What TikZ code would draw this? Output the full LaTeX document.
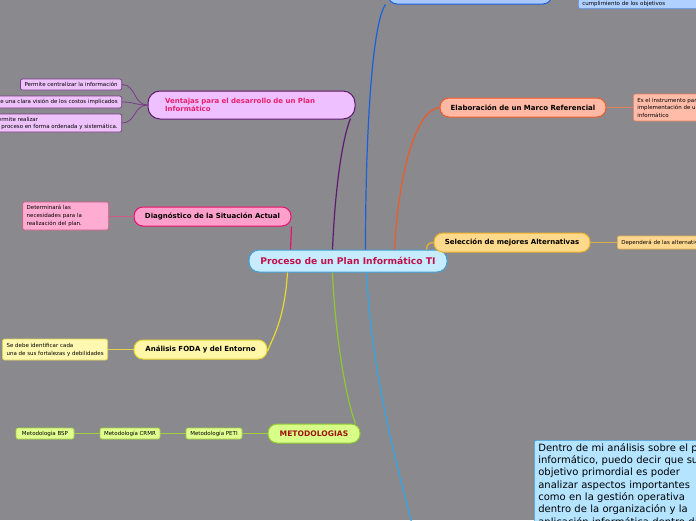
\documentclass[tikz,border=0pt]{standalone}
\usepackage{fontspec}
\setmainfont{DejaVu Sans}
\definecolor{bg}{RGB}{138,138,142}
\definecolor{vfill}{RGB}{238,192,255}
\definecolor{vdraw}{RGB}{94,26,112}
\definecolor{vtext}{RGB}{232,32,110}
\definecolor{vlfill}{RGB}{238,194,250}
\definecolor{vldraw}{RGB}{122,58,138}
\definecolor{dfill}{RGB}{255,160,204}
\definecolor{ddraw}{RGB}{232,16,110}
\definecolor{dlfill}{RGB}{255,172,210}
\definecolor{dldraw}{RGB}{208,90,138}
\definecolor{cfill}{RGB}{200,236,255}
\definecolor{cdraw}{RGB}{64,160,216}
\definecolor{ctext}{RGB}{192,16,74}
\definecolor{efill}{RGB}{255,184,164}
\definecolor{edraw}{RGB}{238,90,40}
\definecolor{elfill}{RGB}{255,188,168}
\definecolor{eldraw}{RGB}{224,128,96}
\definecolor{sfill}{RGB}{255,217,140}
\definecolor{sdraw}{RGB}{240,180,40}
\definecolor{slfill}{RGB}{255,216,144}
\definecolor{sldraw}{RGB}{224,176,80}
\definecolor{ffill}{RGB}{255,246,168}
\definecolor{fdraw}{RGB}{232,216,48}
\definecolor{flfill}{RGB}{255,248,176}
\definecolor{fldraw}{RGB}{224,208,80}
\definecolor{mfill}{RGB}{216,255,136}
\definecolor{mdraw}{RGB}{144,200,48}
\definecolor{mtext}{RGB}{160,16,16}
\definecolor{mlfill}{RGB}{224,255,144}
\definecolor{mldraw}{RGB}{160,208,64}
\definecolor{tfill}{RGB}{168,200,250}
\definecolor{tdraw}{RGB}{26,96,216}
\definecolor{tlfill}{RGB}{176,208,255}
\definecolor{tldraw}{RGB}{90,144,224}
\definecolor{nfill}{RGB}{180,228,255}
\definecolor{ndraw}{RGB}{58,160,224}
\definecolor{bline}{RGB}{48,168,232}
\tikzset{
  mainbox/.style={rounded corners=9pt, draw, line width=1pt, inner sep=0pt,
    minimum height=19pt, font=\bfseries\fontsize{7}{8}\selectfont, text=black},
  leafbox/.style={rounded corners=2pt, draw, line width=0.7pt, align=left,
    inner xsep=4pt, inner ysep=2pt, font=\fontsize{5.5}{7.5}\selectfont, text=black},
  conn/.style={line width=1.2pt},
  lconn/.style={line width=0.8pt}
}
\begin{document}
\begin{tikzpicture}[x=1pt,y=-1pt]
\useasboundingbox (0,0) rectangle (696,520);
\fill[bg] (0,0) rectangle (696,520);

% main nodes
\node[mainbox, fill=tfill, draw=tdraw, minimum width=164pt, minimum height=28pt] (t) at (470,-10) {};
\node[leafbox, fill=tlfill, draw=tldraw, anchor=south west, text height=24pt, inner ysep=2pt, text width=140pt] (tn) at (578,9) {cumplimiento de los objetivos};

\node[mainbox, fill=cfill, draw=cdraw, text=ctext, rounded corners=10pt, minimum width=198pt, minimum height=22pt, font=\bfseries\fontsize{9.2}{10}\selectfont] (c) at (348,261) {Proceso de un Plan Informático TI};

\node[mainbox, fill=vfill, draw=vdraw, text=vtext, rounded corners=12pt, minimum height=28pt, inner xsep=17pt, text width=173pt, align=left, font=\bfseries\fontsize{7}{8}\selectfont] (v) at (251.5,105) {Ventajas para el desarrollo de un Plan\\Informático};

\node[mainbox, fill=dfill, draw=ddraw, minimum width=157pt] (d) at (212.5,216.5) {Diagnóstico de la Situación Actual};
\node[mainbox, fill=efill, draw=edraw, minimum width=166pt] (e) at (523,107.5) {Elaboración de un Marco Referencial};
\node[mainbox, fill=sfill, draw=sdraw, minimum width=156pt] (s) at (512,242.5) {Selección de mejores Alternativas};
\node[mainbox, fill=ffill, draw=fdraw, minimum width=133pt] (f) at (200.5,349.5) {Análisis FODA y del Entorno};
\node[mainbox, fill=mfill, draw=mdraw, text=mtext, minimum width=92pt, font=\bfseries\fontsize{7.6}{8}\selectfont] (m) at (314,433.5) {METODOLOGIAS};

% leaves
\node[leafbox, fill=vlfill, draw=vldraw, anchor=east, minimum height=11pt] (l1) at (122,84.5) {Permite centralizar la información};
\node[leafbox, fill=vlfill, draw=vldraw, anchor=east, minimum height=12pt] (l2) at (122,102) {Ofrece una clara visión de los costos implicados};
\node[leafbox, fill=vlfill, draw=vldraw, anchor=east, minimum height=18pt, font=\fontsize{5.5}{7}\selectfont] (l3) at (122,123) {Permite realizar\\el proceso en forma ordenada y sistemática.};

\node[leafbox, fill=dlfill, draw=dldraw, anchor=east, minimum height=28pt, text width=78pt, font=\fontsize{5.5}{8}\selectfont] (dl) at (109,216) {Determinará las\\necesidades para la\\realización del plan.};
\node[leafbox, fill=elfill, draw=eldraw, anchor=west, minimum height=27pt, font=\fontsize{5.5}{7.5}\selectfont] (el) at (633,107.5) {Es el instrumento para la\\implementación de un plan\\informático};
\node[leafbox, fill=slfill, draw=sldraw, anchor=west, minimum height=13pt] (sl) at (617,242.5) {Dependerá de las alternativas};
\node[leafbox, fill=flfill, draw=fldraw, anchor=east, minimum height=21pt, font=\fontsize{5.5}{8}\selectfont] (fl) at (108,349.5) {Se debe identificar cada\\una de sus fortalezas y debilidades};

\node[leafbox, fill=mlfill, draw=mldraw, minimum height=11pt, minimum width=56pt, align=center] (mp) at (214,433.5) {Metodología PETI};
\node[leafbox, fill=mlfill, draw=mldraw, minimum height=11pt, minimum width=60pt, align=center] (mc) at (130,433.5) {Metodología CRMR};
\node[leafbox, fill=mlfill, draw=mldraw, minimum height=11pt, minimum width=58pt, align=center] (mb) at (45,433.5) {Metodología BSP};

\node[leafbox, fill=nfill, draw=ndraw, anchor=north west, inner xsep=4pt, inner ysep=3pt, text width=200pt, font=\fontsize{10}{12.3}\selectfont] (n) at (534,440) {Dentro de mi análisis sobre el plan\\informático, puedo decir que su\\objetivo primordial es poder\\analizar aspectos importantes\\como en la gestión operativa\\dentro de la organización y la\\aplicación informática dentro de\\la misma};

\coordinate (bb) at (413,528);

% main connectors
\draw[conn, vdraw] ([xshift=84pt]c.north west) .. controls +(3,-70) and +(-7,17) .. ([xshift=-5pt,yshift=1pt]v.south east);
\draw[conn, tdraw] ([xshift=117pt]c.north west) .. controls +(0,-110) and +(-14,20) .. ([xshift=-2pt]t.south west);
\draw[conn, edraw] ([xshift=146pt]c.north west) .. controls +(4,-75) and +(-24,2) .. (e.west);
\draw[conn, ddraw] ([xshift=42pt]c.north west) -- (d.south east);
\draw[conn, sdraw] ([xshift=178pt]c.north west) .. controls +(0,-5) and +(-4,0) .. (s.west);
\draw[conn, fdraw] ([xshift=39pt]c.south west) .. controls +(-3,50) and +(3,-10) .. ([yshift=-2pt]f.east);
\draw[conn, mdraw] ([xshift=84pt]c.south west) .. controls +(3,70) and +(-8,-20) .. ([xshift=-5pt]m.north east);
\draw[conn, bline] ([xshift=118pt]c.south west) .. controls +(5,95) and +(-22,-85) .. (bb);

% leaf connectors
\draw[lconn, vldraw] (v.west) .. controls +(-14,0) and +(14,0) .. (l1.east);
\draw[lconn, vldraw] (v.west) .. controls +(-14,0) and +(14,0) .. (l2.east);
\draw[lconn, vldraw] (v.west) .. controls +(-14,0) and +(14,0) .. (l3.east);
\draw[lconn, dldraw] (d.west) -- (dl.east |- d.west);
\draw[lconn, eldraw] (e.east) -- (el.west);
\draw[lconn, sldraw] (s.east) -- (sl.west);
\draw[lconn, fldraw] (f.west) -- (fl.east);
\draw[lconn, mldraw] (m.west) -- (mp.east);
\draw[lconn, mldraw] (mp.west) -- (mc.east);
\draw[lconn, mldraw] (mc.west) -- (mb.east);
\end{tikzpicture}
\end{document}
